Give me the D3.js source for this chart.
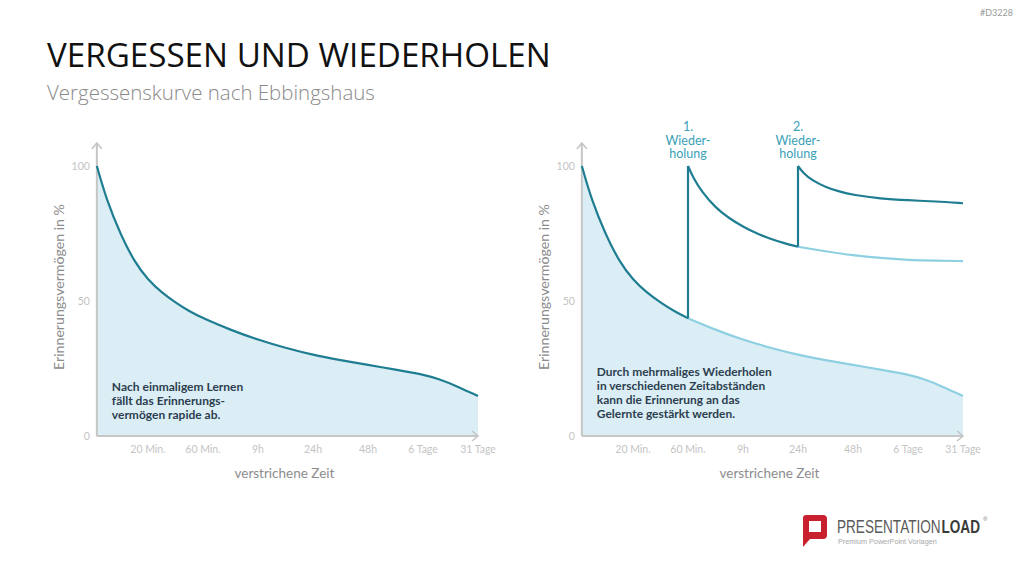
<!DOCTYPE html>
<html><head><meta charset="utf-8">
<script src="https://cdn.jsdelivr.net/npm/d3@7"></script>
<style>
html,body{margin:0;padding:0;background:#fff;}
svg{display:block;font-family:Lato,"Open Sans",sans-serif;}
</style></head>
<body>
<svg id="chart" width="1024" height="576"></svg>
<script>
// ---------- data ----------
const xTickLabels = ["20 Min.","60 Min.","9h","24h","48h","6 Tage","31 Tage"]; // at t = 1..7
const xTickPositions = [1,2,3,4,5,6,7];
const yTickValues = [0,50,100];

// Ebbinghaus forgetting curve (t = time index, v = retention %)
const forgetT = [0.07,0.25,0.5,0.75,1.0,1.25,1.5,1.75,2.0,2.5,3.0,3.5,4.0,4.5,5.0,5.5,6.0,6.3,6.6,7.0];
const forgetV = [100,87.2,74.7,64.6,57.8,53.1,49.4,46.2,43.6,39.3,35.6,32.6,30.0,28.1,26.3,24.6,22.8,21.0,18.6,14.8];

// after 1st repetition (t=2 .. 4 dark, 4 .. 7 light continuation)
const rep1T = [2.0,2.1,2.25,2.5,2.75,3.0,3.25,3.5,3.75,4.0];
const rep1V = [100,95.4,90.5,84.5,80.6,77.5,75.0,73.0,71.4,70.1];
const rep1ContT = [4.0,4.5,5.0,5.5,6.0,6.5,7.0];
const rep1ContV = [70.1,68.4,66.9,65.9,65.2,64.9,64.8];

// after 2nd repetition
const rep2T = [4.0,4.1,4.25,4.5,4.75,5.0,5.5,6.0,6.5,7.0];
const rep2V = [100,97.3,94.8,92.2,90.5,89.3,87.9,87.3,86.9,86.2];

const repLabels = [["1.","Wieder-","holung"],["2.","Wieder-","holung"]];
const repT = [2,4];

const leftNote = ["Nach einmaligem Lernen","fällt das Erinnerungs-","vermögen rapide ab."];
const rightNote = ["Durch mehrmaliges Wiederholen","in verschiedenen Zeitabständen","kann die Erinnerung an das","Gelernte gestärkt werden."];

// ---------- styles ----------
const C = {dark:"#1f7d92", light:"#8ed0e1", fill:"#dbeef5", axis:"#c6c6c6",
           tick:"#c4c4c4", label:"#8c8c8c", note:"#2c3e50", rep:"#3b9fb7"};

const svg = d3.select("#chart");
const zip = (a,b)=>a.map((t,i)=>({t, v:b[i]}));

function fitFont(sel, target){
  const w = sel.node().getComputedTextLength();
  const fs = parseFloat(sel.attr("font-size"));
  const nfs = fs*target/w;
  sel.attr("font-size", nfs);
  return nfs;
}

// ---------- header ----------
const title = svg.append("text").attr("x",47).attr("y",67).attr("font-size",36)
  .attr("font-family","'Open Sans',sans-serif")
  .attr("fill","#111").text("VERGESSEN UND WIEDERHOLEN");
fitFont(title, 504);
const sub = svg.append("text").attr("x",47).attr("y",100).attr("font-size",20)
  .attr("font-family","'Open Sans',sans-serif")
  .attr("fill","#8a8a8a").attr("font-weight",300).text("Vergessenskurve nach Ebbingshaus");
fitFont(sub, 328);
svg.append("text").attr("x",1013).attr("y",16).attr("text-anchor","end")
  .attr("font-size",9).attr("fill","#9a9a9a").text("#D3228");

// ---------- panels ----------
function panel(ox, withReps){
  const x = d3.scaleLinear().domain([0,7]).range([ox, ox+385]);
  const y = d3.scaleLinear().domain([0,100]).range([436,166]);
  const g = svg.append("g");
  const x0 = x(forgetT[0]);
  const fd = zip(forgetT, forgetV);
  const curve = d3.curveBasis;

  // area
  g.append("path").datum(fd)
    .attr("d", d3.area().x(d=>x(d.t)).y0(y(0)).y1(d=>y(d.v)).curve(curve))
    .attr("fill", C.fill);

  // axes
  g.append("line").attr("x1",x0).attr("x2",x(7)).attr("y1",y(0)).attr("y2",y(0))
    .attr("stroke",C.axis).attr("stroke-width",2);
  g.append("line").attr("x1",x0).attr("x2",x0).attr("y1",y(0)).attr("y2",143)
    .attr("stroke",C.axis).attr("stroke-width",2);
  g.append("path").attr("d",`M${x(7)-6},${y(0)-5}L${x(7)},${y(0)}L${x(7)-6},${y(0)+5}`)
    .attr("fill","none").attr("stroke",C.axis).attr("stroke-width",1.6);
  g.append("path").attr("d",`M${x0-5},149L${x0},143L${x0+5},149`)
    .attr("fill","none").attr("stroke",C.axis).attr("stroke-width",1.6);

  // tick labels
  g.selectAll(".yt").data(yTickValues).join("text")
    .attr("x",x0-7).attr("y",d=>y(d)).attr("dy","0.35em").attr("text-anchor","end")
    .attr("font-size",10.5).attr("fill",C.tick).text(d=>d);
  g.selectAll(".xt").data(xTickLabels).join("text")
    .attr("x",(d,i)=>x(xTickPositions[i])).attr("y",449).attr("dy","0.35em")
    .attr("text-anchor","middle").attr("font-size",10.5).attr("fill",C.tick).text(d=>d);

  // axis titles
  const xl = g.append("text").attr("x",(x0+x(7))/2 - 3).attr("y",478).attr("text-anchor","middle")
    .attr("font-size",14).attr("fill",C.label).text("verstrichene Zeit");
  fitFont(xl, 100);
  const yl = g.append("text").attr("transform",`translate(${x0-33},${287}) rotate(-90)`)
    .attr("text-anchor","middle").attr("font-size",14).attr("fill",C.label)
    .text("Erinnerungsvermögen in %");
  fitFont(yl, 166);

  const line = d3.line().x(d=>x(d.t)).y(d=>y(d.v)).curve(curve);
  const stroke = (sel,col)=>sel.attr("fill","none").attr("stroke",col).attr("stroke-width",2.2);

  if(!withReps){
    g.append("path").datum(fd).attr("d",line).call(stroke,C.dark);
  } else {
    const i2 = forgetT.indexOf(repT[0]);
    g.append("path").datum(fd.slice(i2)).attr("d",line).call(stroke,C.light);
    g.append("path").datum(zip(rep1ContT,rep1ContV)).attr("d",line).call(stroke,C.light);
    g.append("path").datum(fd.slice(0,i2+1)).attr("d",line).call(stroke,C.dark);
    // jumps
    const jumps = [[repT[0], forgetV[i2]],[repT[1], rep1V[rep1V.length-1]]];
    g.selectAll(".jump").data(jumps).join("line")
      .attr("x1",d=>x(d[0])).attr("x2",d=>x(d[0])).attr("y1",d=>y(d[1])).attr("y2",y(100))
      .attr("stroke",C.dark).attr("stroke-width",2.2);
    g.append("path").datum(zip(rep1T,rep1V)).attr("d",line).call(stroke,C.dark);
    g.append("path").datum(zip(rep2T,rep2V)).attr("d",line).call(stroke,C.dark);
    // rep labels
    repLabels.forEach((lines,k)=>{
      lines.forEach((s,j)=>{
        g.append("text").attr("x",x(repT[k])).attr("y",127+13.3*j).attr("dy","0.35em")
          .attr("text-anchor","middle").attr("font-size",12.5).attr("fill",C.rep).text(s);
      });
    });
  }

  // note
  const lines = withReps ? rightNote : leftNote;
  const top = withReps ? 372.3 : 386.7;
  const tx = x0 + 15;
  const first = g.append("text").attr("x",tx).attr("y",top).attr("dy","0.35em")
    .attr("font-size",12).attr("font-weight",700).attr("fill",C.note).text(lines[0]);
  const fs = fitFont(first, withReps ? 175 : 131.6);
  lines.slice(1).forEach((s,j)=>{
    g.append("text").attr("x",tx).attr("y",top+14*(j+1)).attr("dy","0.35em")
      .attr("font-size",fs).attr("font-weight",700).attr("fill",C.note).text(s);
  });
}
panel(93,false);
panel(578,true);

// ---------- logo ----------
const logo = svg.append("g").attr("font-family","'Liberation Sans',sans-serif");
logo.append("path")
  .attr("d","M806,515 H823 Q827,515 827,519 V535 Q827,539 823,539 H810 L803,547 V518 Q803,515 806,515 Z M809,521 V532 H821 V521 Z")
  .attr("fill","#c8202f").attr("fill-rule","evenodd");
const brandG = logo.append("g");
const b1 = brandG.append("text").attr("x",0).attr("y",0).attr("font-size",18)
  .attr("fill","#5a5a5a").text("PRESENTATION");
const w1 = b1.node().getComputedTextLength();
const b2 = brandG.append("text").attr("x",w1+1).attr("y",0).attr("font-size",18)
  .attr("font-weight",700).attr("fill","#3a3a3a").text("LOAD");
const w2 = b2.node().getComputedTextLength();
const sx = 143/(w1+1+w2);
brandG.attr("transform",`translate(837,533) scale(${sx},1)`);
logo.append("text").attr("x",837+143+3).attr("y",521).attr("font-size",6).attr("fill","#777").text("®");
const p3 = logo.append("text").attr("x",838).attr("y",544).attr("font-size",9).attr("fill","#a8a8a8").text("Premium PowerPoint Vorlagen");
fitFont(p3, 99);
</script>
</body></html>
